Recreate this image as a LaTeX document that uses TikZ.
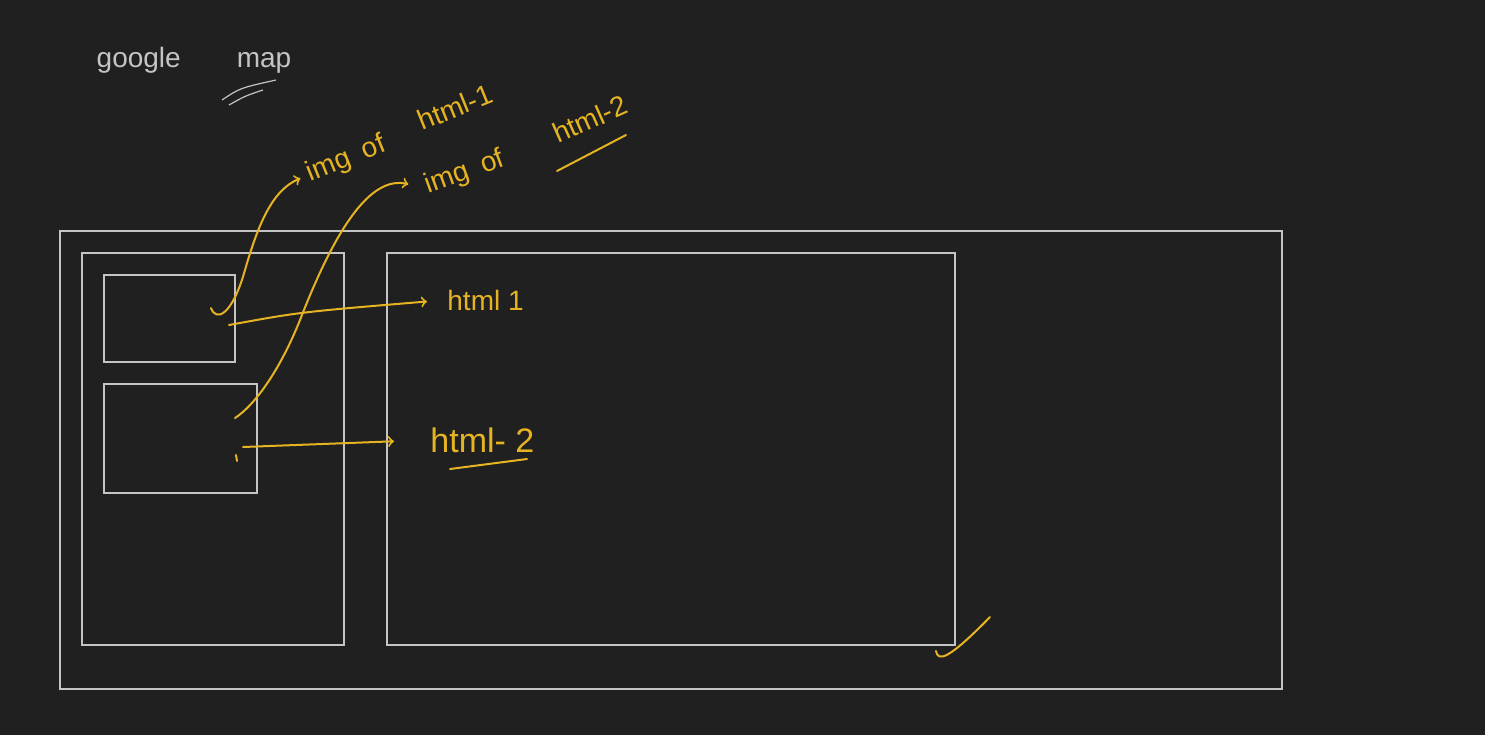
\documentclass[tikz,border=0pt]{standalone}
\usepackage{fontspec}
\setmainfont{Liberation Sans}
\definecolor{board}{HTML}{202020}
\definecolor{chalk}{HTML}{C4C4C4}
\definecolor{marker}{HTML}{E6B422}
\tikzset{
    frame/.style={draw=chalk, line width=0.6pt},
    ink/.style={marker, line width=1pt, line cap=round},
    note/.style={text=marker, inner sep=1pt, font=\fontsize{14}{16}\selectfont},
}
\begin{document}
\begin{tikzpicture}[x=0.5pt,y=-0.5pt]
    \fill[board] (0,0) rectangle (1485,735);
    \useasboundingbox (0,0) rectangle (1485,735);

    % title
    \node[text=chalk, font=\fontsize{14}{16}\selectfont] (title) at (194,60) {google\qquad map};
    \draw[chalk, line width=0.6pt] (222,100) .. controls (240,88) .. (276,80);
    \draw[chalk, line width=0.6pt] (229,105) .. controls (245,96) .. (263,90);

    % page layout
    \draw[frame] (60,231) rectangle (1282,689);
    \draw[frame] (82,253) rectangle (344,645);
    \draw[frame] (387,253) rectangle (955,645);
    \draw[frame] (104,275) rectangle (235,362);
    \draw[frame] (104,384) rectangle (257,493);

    \coordinate (img1) at (211,308);
    \coordinate (img2) at (235,418);
    \coordinate (pin1) at (229,325);
    \coordinate (pin2) at (243,447);

    % labels
    \node[note, rotate=22, anchor=west] (imgone) at (306,176) {img\enspace of};
    \node[note, rotate=22] (htmlonetop) at (455,107) {html-1};
    \node[note, rotate=20, anchor=west] (imgtwo) at (424,188) {img\enspace of};
    \node[note, rotate=24] (htmltwotop) at (590,119) {html-2};
    \node[note, anchor=west] (htmlone) at (445,300) {html 1};
    \node[note, anchor=west, font=\fontsize{17}{19}\selectfont] (htmltwo) at (428,440) {html- 2};
    \draw[ink] (450,469) -- (527,459);
    \draw[ink] (557,171) -- (626,135);

    % connectors
    \draw[ink,->,shorten >=3pt] (img1) .. controls (216,322) and (232,316) .. (245,270)
        .. controls (258,225) and (272,190) .. (imgone.west);
    \draw[ink,->,shorten >=8pt] (img2) .. controls (255,405) and (280,370) .. (300,320)
        .. controls (335,230) and (370,175) .. (imgtwo.west);
    \draw[ink,->,shorten >=9pt] (pin1) .. controls (300,312) .. (htmlone.west);
    \draw[ink,->,shorten >=17pt] (pin2) -- (htmltwo.west);
    \draw[ink] (236,455) -- (237,461);

    % tick
    \draw[ink] (936,651) .. controls (938,662) and (948,660) .. (990,617);
\end{tikzpicture}
\end{document}
